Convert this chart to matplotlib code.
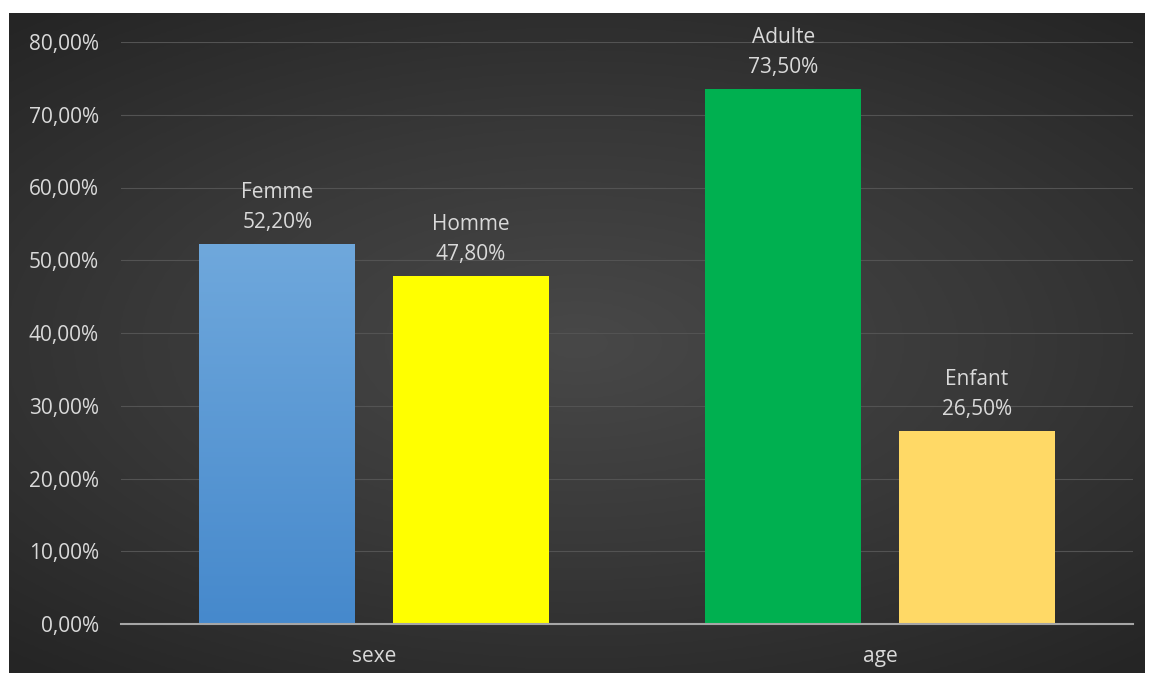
import numpy as np
import matplotlib
matplotlib.use("Agg")
import matplotlib.pyplot as plt
from matplotlib.colors import LinearSegmentedColormap

plt.rcParams['font.family'] = ['Open Sans', 'DejaVu Sans']

groups = ["sexe", "age"]
series_names = ["Femme", "Homme", "Adulte", "Enfant"]
series_values = [52.2, 47.8, 73.5, 26.5]
series_group = [0, 0, 1, 1]
series_offset = [-0.191, 0.191, -0.191, 0.191]
series_colors = ["#5B9BD5", "#FFFF00", "#00B050", "#FFD966"]
yticks = [0, 10, 20, 30, 40, 50, 60, 70, 80]

W, H = 1153, 677
fig = plt.figure(figsize=(W / 100, H / 100), dpi=100, facecolor="white")

# dark radial-gradient panel
bg = fig.add_axes([9 / W, 1 - 673 / H, (1145 - 9) / W, (673 - 13) / H])
bg.set_axis_off()
ny, nx = 330, 570
yy, xx = np.mgrid[-1:1:ny * 1j, -1:1:nx * 1j]
r = np.sqrt((xx * 0.85) ** 2 + (yy * 1.0) ** 2)
r = np.clip(r / 1.3, 0, 1)
cmap = LinearSegmentedColormap.from_list("bg", ["#484848", "#383838", "#252525"])
bg.imshow(r, cmap=cmap, aspect="auto", extent=[0, 1, 0, 1], interpolation="bicubic")

ax = fig.add_axes([121 / W, 1 - 624 / H, (1133 - 121) / W, (624 - 42) / H])
ax.patch.set_alpha(0)
ax.set_xlim(-0.5, 1.5)
ax.set_ylim(0, 80)

width = 0.308
text_color = "#D9D9D9"
for name, val, g, off, col in zip(series_names, series_values, series_group,
                                  series_offset, series_colors):
    x = g + off
    if name == "Femme":
        # soft vertical shading on the blue bar
        grad = np.linspace(0, 1, 200).reshape(-1, 1)
        cm = LinearSegmentedColormap.from_list("blue", ["#4689CC", "#6FA8DC"])
        im = ax.imshow(grad, cmap=cm, aspect="auto", origin="lower",
                       extent=[x - width / 2, x + width / 2, 0, val], zorder=2)
        bar = ax.bar(x, val, width=width, color="none", zorder=2)
        im.set_clip_path(bar.patches[0])
    else:
        ax.bar(x, val, width=width, color=col, zorder=2)
    label = f"{name}\n{val:.2f}%".replace(".", ",")
    ax.annotate(label, xy=(x, val), xytext=(0, 8), textcoords="offset points",
                ha="center", va="bottom", color=text_color, fontsize=15,
                linespacing=1.55)

ax.set_xlim(-0.5, 1.5)
ax.set_ylim(0, 80)
ax.set_yticks(yticks)
ax.set_yticklabels([f"{t:.2f}%".replace(".", ",") for t in yticks])
ax.set_xticks(range(len(groups)))
ax.set_xticklabels(groups)
ax.tick_params(axis="both", colors=text_color, labelsize=15, length=0)
ax.tick_params(axis="y", pad=16)
ax.tick_params(axis="x", pad=16)
ax.grid(axis="y", color="#535353", linewidth=0.8, zorder=0)
ax.set_axisbelow(True)
for s in ["top", "right", "left"]:
    ax.spines[s].set_visible(False)
ax.spines["bottom"].set_color("#A6A6A6")
ax.spines["bottom"].set_linewidth(1.5)
ax.spines["bottom"].set_zorder(3)

fig.savefig("out.png", dpi=100, facecolor="white")
